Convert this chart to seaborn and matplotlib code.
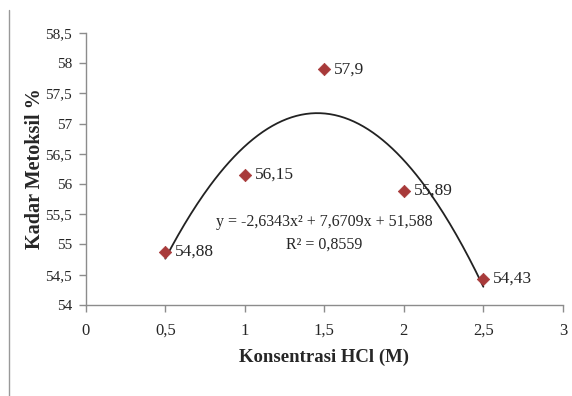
import numpy as np
import pandas as pd
import matplotlib
matplotlib.use("Agg")
import matplotlib.pyplot as plt
from matplotlib.lines import Line2D
from matplotlib.ticker import FuncFormatter, MultipleLocator
import seaborn as sns

# data
hcl = [0.5, 1.0, 1.5, 2.0, 2.5]
metoksil = [54.88, 56.15, 57.9, 55.89, 54.43]
point_labels = ["54,88", "56,15", "57,9", "55,89", "54,43"]

# polynomial trendline coefficients shown on the chart
coef = [-2.6343, 7.6709, 51.588]
eq_text = "y = -2,6343x² + 7,6709x + 51,588"
r2_text = "R² = 0,8559"

sns.set_style("white")
plt.rcParams["font.family"] = ["Liberation Serif", "DejaVu Serif"]

df = pd.DataFrame({"x": hcl, "y": metoksil})
xs = np.linspace(hcl[0], hcl[-1], 200)
trend = pd.DataFrame({"x": xs, "y": np.polyval(coef, xs)})

fig = plt.figure(figsize=(5.72, 3.96), dpi=100)
ax = fig.add_axes([0.150, 0.230, 0.834, 0.687])

sns.lineplot(data=trend, x="x", y="y", ax=ax, color="#222222", linewidth=1.3)
sns.scatterplot(data=df, x="x", y="y", ax=ax, marker="D", s=40,
                color="#A83A3A", edgecolor="#A83A3A", zorder=3)

for x, y, lab in zip(hcl, metoksil, point_labels):
    ax.annotate(lab, (x, y), xytext=(7, 0), textcoords="offset points",
                ha="left", va="center", fontsize=12.5)

ax.text(1.5, 55.37, eq_text, ha="center", va="center", fontsize=11.5)
ax.text(1.5, 54.99, r2_text, ha="center", va="center", fontsize=11.5)

ax.set_xlim(0, 3)
ax.set_ylim(54, 58.5)
ax.xaxis.set_major_locator(MultipleLocator(0.5))
ax.yaxis.set_major_locator(MultipleLocator(0.5))
fmt = FuncFormatter(lambda v, p: f"{v:g}".replace(".", ","))
ax.xaxis.set_major_formatter(fmt)
ax.yaxis.set_major_formatter(fmt)

for s in ["top", "right"]:
    ax.spines[s].set_visible(False)
for s in ["left", "bottom"]:
    ax.spines[s].set_color("#8c8c8c")
    ax.spines[s].set_linewidth(1.0)
ax.tick_params(axis="both", direction="out", length=5, width=1.0,
               color="#8c8c8c", labelsize=11, pad=5,
               left=True, bottom=True)
ax.tick_params(axis="x", labelsize=12, pad=8)

ax.set_xlabel("Konsentrasi HCl (M)", fontsize=13.5, fontweight="bold")
ax.set_ylabel("Kadar Metoksil %", fontsize=14.5, fontweight="bold")
ax.xaxis.set_label_coords(0.5, -0.16)
ax.yaxis.set_label_coords(-0.085, 0.5)

# left border line of the original figure
fig.add_artist(Line2D([9 / 572, 9 / 572], [0, 1 - 10 / 396],
                      transform=fig.transFigure, color="#999999", linewidth=1.0))

fig.savefig("out.png", dpi=100)
